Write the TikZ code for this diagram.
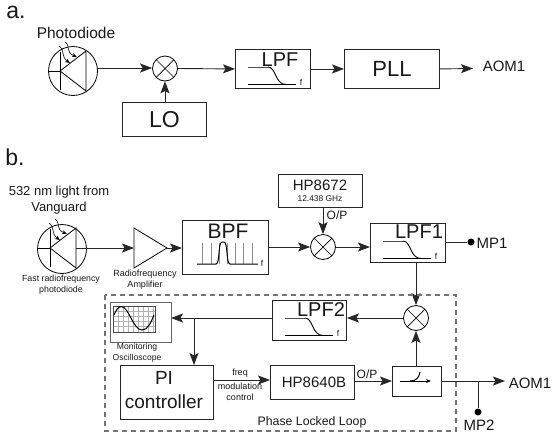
\documentclass[tikz,border=0pt]{standalone}
\usepackage{fontspec}
\setmainfont{Liberation Sans}
\usetikzlibrary{arrows.meta}
\newcommand{\fsz}[1]{\fontsize{#1}{#1}\selectfont}
\definecolor{ln}{gray}{0.15}
\tikzset{
  box/.style={draw=ln,line width=0.9pt,inner sep=0pt,anchor=north west},
  txt/.style={inner sep=0pt,text=black!90},
  mixer/.style={circle,draw=black,line width=0.8pt,minimum size=25pt,inner sep=0pt,
    path picture={\draw[line width=0.7pt] (path picture bounding box.north west)--(path picture bounding box.south east)
      (path picture bounding box.north east)--(path picture bounding box.south west);}},
  wire/.style={draw=ln,line width=0.9pt},
  arr/.style={wire,-{Stealth[length=12pt,width=9pt,inset=2.5pt]}},
  thin wire/.style={draw=black,line width=0.8pt},
  tiny arr/.style={draw=black,line width=0.6pt,-{Stealth[length=5pt,width=4pt]}},
  probe/.style={circle,fill=black,inner sep=0pt,minimum size=7pt},
  dashbox/.style={draw=black!55,line width=1.1pt,dash pattern=on 5pt off 4pt}
}
% low-pass icon, relative to box top-left
\newcommand{\lpficon}[2]{%
  \begin{scope}[shift={(#1,#2)}]
    \draw[draw=black!70,line width=0.9pt] (13,18) -- (33,18);
    \draw[black,line width=0.9pt] (33,18) .. controls (41,18) and (40,35.5) .. (51,35.5);
    \draw[black,line width=0.8pt] (13,35.5) -- (61,35.5);
    \node[txt,font=\fsz{8.5}] at (66,33) {f};
  \end{scope}}
% diode drawing with light arrows
\newcommand{\diode}[2]{% x,y of apex
  \begin{scope}[shift={(#1,#2)}]
    \draw[thin wire] (0,-19) -- (0,19) (-12,0) -- (0,0);
    \draw[thin wire] (26,-20) -- (0,0) -- (26,20) -- cycle;
    \draw[tiny arr] (-1,-25) .. controls (5,-21) and (1,-14) .. (10,-8);
    \draw[tiny arr] (5,-29) .. controls (11,-25) and (5,-19) .. (17,-14);
  \end{scope}}
\begin{document}
\begin{tikzpicture}[x=1pt,y=-1pt]
\useasboundingbox (0,0) rectangle (553,434);
% ---- a ----
\node[txt,font=\fsz{23}] (la) at (16,12) {a.};
\node[txt,font=\fsz{15.5}] (tpa) at (76,33) {Photodiode};
\node[circle,draw=black,line width=0.8pt,minimum size=49pt,inner sep=0pt] (pda) at (73,71) {};
\diode{60}{71}
\coordinate (pdaout) at (97,68);
\node[mixer] (ma) at (165,68.5) {};
\node[box,minimum width=84pt,minimum height=34pt] (lo) at (122,102) {};
\node[txt,font=\fsz{23}] (lot) at (lo.center) {LO};
\node[box,minimum width=75pt,minimum height=39pt] (lpfa) at (235,49) {};
\lpficon{235}{49}
\node[txt,font=\fsz{20}] (lpfat) at (280,60) {LPF};
\node[box,minimum width=95pt,minimum height=39pt] (pll) at (344,49) {};
\node[txt,font=\fsz{22}] (pllt) at (pll.center) {PLL};
\node[txt,font=\fsz{15}] (aoma) at (504,66) {AOM1};
\coordinate (aomaend) at (473,68.5);
\draw[arr] (pdaout) -- (ma.west |- pdaout);
\draw[arr] (lo.north -| ma) -- (ma.south);
\draw[arr] (ma.east) -- (lpfa.west);
\draw[arr] (lpfa.east) -- (pll.west);
\draw[arr] (pll.east) -- (aomaend);
% ---- b ----
\node[txt,font=\fsz{23}] (lb) at (15,157) {b.};
\node[txt,font=\fsz{13}] (tpb1) at (59,192) {532 nm light from};
\node[txt,font=\fsz{13}] (tpb2) at (59,208) {Vanguard};
\node[circle,draw=black,line width=0.8pt,minimum size=49pt,inner sep=0pt] (pdb) at (62,249) {};
\diode{50}{248}
\coordinate (pdbout) at (76,248);
\node[txt,font=\fsz{8.8}] (tfr1) at (61,279) {Fast radiofrequency};
\node[txt,font=\fsz{8.8}] (tfr2) at (61,290) {photodiode};
\draw[thin wire] (134,228) -- (134,268) -- (167,248) -- cycle;
\coordinate (ampin) at (134,248);
\coordinate (ampout) at (167,248);
\node[txt,font=\fsz{9}] (tra1) at (145,274) {Radiofrequency};
\node[txt,font=\fsz{9}] (tra2) at (145,285) {Amplifier};
\node[box,minimum width=86pt,minimum height=54pt] (bpf) at (182,220) {};
\node[txt,font=\fsz{21}] (bpft) at (228,231) {BPF};
\foreach \gx in {202,211,219,227,235,243,252} \draw[black!45,line width=0.5pt] (\gx,243) -- (\gx,264);
\draw[black,line width=1pt] (197,264) -- (216,264) .. controls (220,264) and (218,242) .. (222,242) -- (224,242) .. controls (228,242) and (226,264) .. (230,264) -- (258,264);
\node[txt,font=\fsz{8.5}] at (262,263) {f};
\node[mixer] (mb) at (323,247) {};
\coordinate (bpfout) at (268,247);
\node[box,minimum width=84pt,minimum height=33pt] (hp72) at (278,174) {};
\node[txt,font=\fsz{15}] (hp72t) at (320,185) {HP8672};
\node[txt,font=\fsz{8.4}] (hp72f) at (320,199) {12.438 GHz};
\node[txt,font=\fsz{12}] (op1) at (337,215) {O/P};
\node[box,minimum width=75pt,minimum height=39pt] (lpf1) at (370,223) {};
\lpficon{370}{223}
\node[txt,font=\fsz{20}] (lpf1t) at (419,232) {LPF1};
\coordinate (lpf1in) at (370,247);
\coordinate (lpf1out) at (445,242);
\coordinate (lpf1dn) at (416,262);
\node[probe] (mp1) at (471,242) {};
\node[txt,font=\fsz{15}] (mp1t) at (492,243) {MP1};
\node[mixer] (mc) at (416,318) {};
\draw[arr] (pdbout) -- (ampin);
\draw[arr] (ampout) -- (bpf.west |- ampout);
\draw[arr] (bpfout) -- (mb.west);
\draw[arr] (mb.east) -- (lpf1in);
\draw[arr] (hp72.south -| mb) -- (mb.north);
\draw[wire] (lpf1out) -- (mp1);
\draw[arr] (lpf1dn) -- (mc.north);
% loop box
\draw[dashbox] (105,295) rectangle (456,431);
\node[txt,font=\fsz{12.3}] (loop) at (312,422) {Phase Locked Loop};
\node[box,minimum width=74pt,minimum height=40pt] (lpf2) at (272,300) {};
\lpficon{272}{300}
\node[txt,font=\fsz{20}] (lpf2t) at (321,310) {LPF2};
% scope
\node[box,draw=black!60,line width=1.1pt,minimum width=61pt,minimum height=40pt] (osc) at (110,302) {};
\foreach \gx in {118,123,128,133,138,143,148,153} \draw[black!30,line width=0.35pt] (\gx,306) -- (\gx,332);
\foreach \gy in {311,316,321,326} \draw[black!30,line width=0.35pt] (113.5,\gy) -- (155,\gy);
\draw[black!70,line width=0.8pt] (113.5,306) rectangle (155,332);
\draw[black,line width=1pt] (114,315) .. controls (117,308) and (119,306.5) .. (121,306.5) .. controls (129,306.5) and (133,330) .. (142,330) .. controls (148,330) and (151,322) .. (154,315);
\node[txt,font=\fsz{8.6}] (to1) at (137,347) {Monitoring};
\node[txt,font=\fsz{8.6}] (to2) at (137,358) {Oscilloscope};
\node[box,minimum width=93pt,minimum height=54pt] (pi) at (120,365) {};
\node[txt,font=\fsz{19}] (pit) at (164,378) {PI};
\node[txt,font=\fsz{19}] (pit2) at (164,402) {controller};
\node[box,minimum width=84pt,minimum height=34pt] (hp40) at (270,365) {};
\node[txt,font=\fsz{15}] (hp40t) at (314,382) {HP8640B};
\node[txt,font=\fsz{9}] (tf1) at (240,373) {freq};
\node[txt,font=\fsz{9}] (tf2) at (240,386) {modulation};
\node[txt,font=\fsz{9}] (tf3) at (240,397) {control};
\node[txt,font=\fsz{12}] (op2) at (367,374) {O/P};
\node[box,minimum width=49pt,minimum height=30pt] (sw) at (392,366) {};
\draw[black,line width=0.8pt,-{Stealth[length=5pt,width=4pt]}] (400,381) -- (431,381);
\draw[black,line width=1pt] (410,381) .. controls (416,381) and (419,378) .. (420,372);
\coordinate (oscin) at (171,318);
\coordinate (jn) at (194,318);
\coordinate (pitop) at (194,365);
\coordinate (piout) at (213,380);
\coordinate (hp40in) at (270,380);
\coordinate (hp40out) at (354,381);
\coordinate (swin) at (392,381);
\coordinate (swout) at (441,381);
\coordinate (aomend) at (505,381);
\coordinate (jn2) at (478,381);
\coordinate (swtop) at (416,366);
\node[txt,font=\fsz{15}] (aomb) at (530,383) {AOM1};
\node[probe] (mp2) at (478,412) {};
\node[txt,font=\fsz{15}] (mp2t) at (479,425) {MP2};
\draw[arr] (mc.west) -- (lpf2.east |- mc.west);
\draw[arr] (lpf2.west |- oscin) -- (oscin);
\draw[arr] (jn) -- (pitop);
\draw[arr] (piout) -- (hp40in);
\draw[arr] (hp40out) -- (swin);
\draw[arr] (swtop) -- (mc.south);
\draw[arr] (swout) -- (aomend);
\draw[wire] (jn2) -- (mp2);
\end{tikzpicture}
\end{document}
